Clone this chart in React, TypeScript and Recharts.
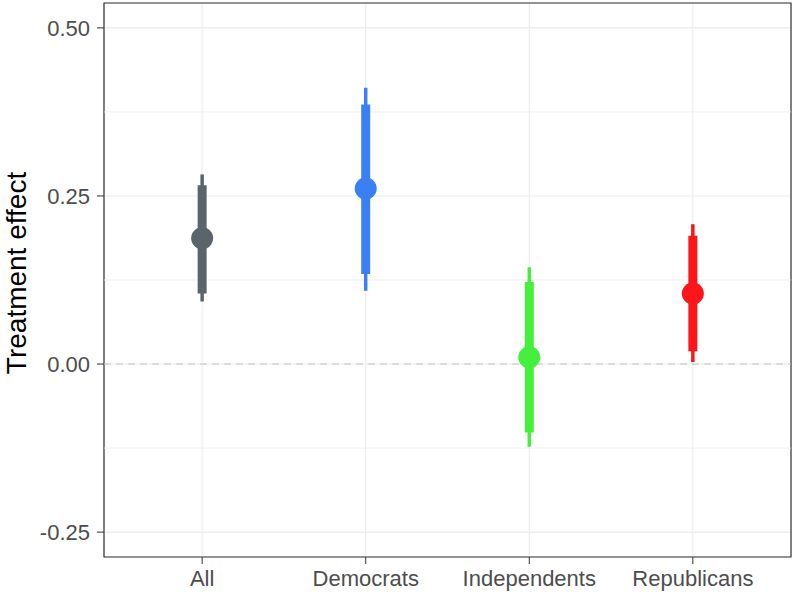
import React from 'react';
import {
  ComposedChart,
  Scatter,
  XAxis,
  YAxis,
  CartesianGrid,
  ReferenceLine,
  ReferenceArea,
  ErrorBar,
} from 'recharts';

const categories = ['All', 'Democrats', 'Independents', 'Republicans'];
const estimates = [0.187, 0.261, 0.01, 0.105];
const innerLow = [0.105, 0.134, -0.102, 0.019];
const innerHigh = [0.266, 0.386, 0.122, 0.191];
const outerLow = [0.093, 0.109, -0.123, 0.003];
const outerHigh = [0.282, 0.411, 0.144, 0.208];
const colors = ['#59656a', '#3a80f2', '#45f03d', '#fc1519'];

const yTicks = [-0.25, 0, 0.25, 0.5];
const yMinor = [-0.125, 0.125, 0.375];
const xTicks = [1, 2, 3, 4];
const yDomain: [number, number] = [-0.287, 0.537];
const xDomain: [number, number] = [0.4, 4.6];

const series = categories.map((name, i) => ({
  name,
  color: colors[i],
  data: [
    {
      x: i + 1,
      y: estimates[i],
      inner: [estimates[i] - innerLow[i], innerHigh[i] - estimates[i]],
      outer: [estimates[i] - outerLow[i], outerHigh[i] - estimates[i]],
    },
  ],
}));

const FONT = '"Liberation Sans", Arial, Helvetica, sans-serif';

export default function App() {
  return (
    <div style={{ position: 'absolute', left: 0, top: 0, background: '#fff' }}>
      <ComposedChart
        width={793}
        height={592}
        margin={{ top: 3, right: 2, bottom: 0, left: 0 }}
        style={{ fontFamily: FONT }}
      >
        <CartesianGrid stroke="#ebebeb" strokeWidth={1.1} />
        {yMinor.map((v) => (
          <ReferenceLine key={v} y={v} stroke="#eeeeee" strokeWidth={0.8} />
        ))}
        <ReferenceLine y={0} stroke="#c4c4c4" strokeDasharray="7 5" strokeWidth={1} />
        <XAxis
          type="number"
          dataKey="x"
          domain={xDomain}
          ticks={xTicks}
          tickFormatter={(v: number) => categories[v - 1]}
          allowDataOverflow
          axisLine={false}
          tickLine={{ stroke: '#333333' }}
          tickSize={7}
          tickMargin={6}
          height={35}
          tick={{ fill: '#4d4d4d', fontSize: 22 }}
          interval={0}
        />
        <YAxis
          type="number"
          dataKey="y"
          domain={yDomain}
          ticks={yTicks}
          allowDataOverflow
          tickFormatter={(v: number) => v.toFixed(2)}
          axisLine={false}
          tickLine={{ stroke: '#333333' }}
          tickSize={7}
          tickMargin={7}
          width={104}
          tick={{ fill: '#4d4d4d', fontSize: 22 }}
          label={{
            content: () => (
              <text
                x={26}
                y={273}
                transform="rotate(-90, 26, 273)"
                textAnchor="middle"
                fontSize={28}
                fill="#000"
                style={{ fontFamily: FONT }}
              >
                Treatment effect
              </text>
            ),
          }}
        />
        {series.map((s) => (
          <Scatter
            key={s.name}
            name={s.name}
            data={s.data}
            fill={s.color}
            isAnimationActive={false}
            shape={(p: any) => <circle cx={p.cx} cy={p.cy} r={11} fill={s.color} />}
          >
            <ErrorBar dataKey="outer" direction="y" width={0} stroke={s.color} strokeWidth={3.5} isAnimationActive={false} />
            <ErrorBar dataKey="inner" direction="y" width={0} stroke={s.color} strokeWidth={9} isAnimationActive={false} />
          </Scatter>
        ))}
        <ReferenceArea
          x1={xDomain[0]}
          x2={xDomain[1]}
          y1={yDomain[0]}
          y2={yDomain[1]}
          fill="none"
          stroke="#333333"
          strokeWidth={1.2}
          fillOpacity={0}
        />
      </ComposedChart>
    </div>
  );
}
